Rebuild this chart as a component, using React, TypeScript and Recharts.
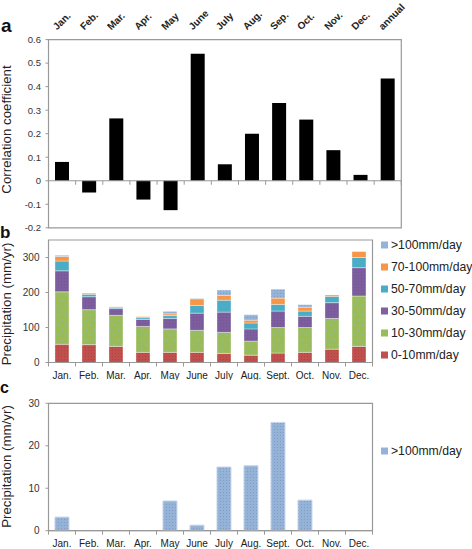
import React from 'react'
import { BarChart, Bar, XAxis, YAxis, ReferenceLine, ReferenceArea } from 'recharts'

// panel a: correlation coefficients
const corrLabels = ['Jan.', 'Feb.', 'Mar.', 'Apr.', 'May', 'June', 'July', 'Aug.', 'Sep.', 'Oct.', 'Nov.', 'Dec.', 'annual']
const corrValues = [0.08, -0.05, 0.265, -0.08, -0.125, 0.54, 0.07, 0.2, 0.33, 0.26, 0.13, 0.025, 0.435]
const corrTicks = [-0.2, -0.1, 0, 0.1, 0.2, 0.3, 0.4, 0.5, 0.6]

// panel b/c: precipitation by daily intensity class
const months = ['Jan.', 'Feb.', 'Mar.', 'Apr.', 'May', 'June', 'July', 'Aug.', 'Sept.', 'Oct.', 'Nov.', 'Dec.']
const p0to10 = [52, 51, 46, 29, 29, 29, 26, 21, 27, 29, 38, 46]
const p10to30 = [150, 100, 89, 74, 67, 63, 60, 40, 73, 71, 88, 144]
const p30to50 = [60, 37, 19, 20, 30, 49, 58, 35, 47, 32, 45, 81]
const p50to70 = [28, 7, 4, 5, 8, 22, 34, 17, 19, 15, 18, 29]
const p70to100 = [13, 3, 1, 3, 5, 19, 14, 8, 18, 11, 4, 17]
const pOver100 = [3.2, 0, 0, 0, 7, 1.3, 15, 15.3, 25.5, 7.2, 0, 0]
const precipTicks = [0, 100, 200, 300]
const extremeTicks = [0, 10, 20, 30]

const seriesKeys = ['p0', 'p10', 'p30', 'p50', 'p70', 'p100']
const seriesNames = ['0-10mm/day', '10-30mm/day', '30-50mm/day', '50-70mm/day', '70-100mm/day', '>100mm/day']

const colors: Record<string, string> = {
  p0: '#c0504d',
  p10: '#9bbb59',
  p30: '#7f61a0',
  p50: '#4bacc6',
  p70: '#f79646',
  p100: '#95b3d7',
}
const fills: Record<string, string> = {
  p0: 'url(#b-red)',
  p10: 'url(#b-green)',
  p30: 'url(#b-purple)',
  p50: '#4bacc6',
  p70: '#f79646',
  p100: 'url(#b-blue)',
}

const corrData = corrLabels.map((m, i) => ({ m, v: corrValues[i] }))
const precipData = months.map((m, i) => ({
  m,
  p0: p0to10[i],
  p10: p10to30[i],
  p30: p30to50[i],
  p50: p50to70[i],
  p70: p70to100[i],
  p100: pOver100[i],
}))
const extremeData = months.map((m, i) => ({ m, v: pOver100[i] }))

const FONT = '"Liberation Sans", Arial, sans-serif'
const GRAY = '#999'
const W = 472
const BAND_B = (W - 48.5 - 99.5) / months.length

function TopTick({ x, y, payload }: any) {
  const tx = x - 5
  const ty = y - 9
  return (
    <text x={tx} y={ty} transform={`rotate(-45 ${tx} ${ty})`} fontSize={10} fontWeight="bold" fill="#222" textAnchor="start" fontFamily={FONT}>
      {payload.value}
    </text>
  )
}

function MonthTick({ x, y, payload, index }: any) {
  const left = x - BAND_B / 2
  return (
    <g>
      <line x1={left} y1={y} x2={left} y2={y + 4} stroke={GRAY} />
      {index === months.length - 1 && <line x1={x + BAND_B / 2} y1={y} x2={x + BAND_B / 2} y2={y + 4} stroke={GRAY} />}
      <text x={x} y={y + 16} fontSize={10} fill="#222" textAnchor="middle" fontFamily={FONT}>
        {payload.value}
      </text>
    </g>
  )
}

function ZeroAxis(props: any) {
  const { x1, x2, y1 } = props
  const step = (x2 - x1) / corrLabels.length
  return (
    <g>
      <line x1={x1} y1={y1} x2={x2} y2={y1} stroke={GRAY} />
      {corrLabels.map((_, i) => (
        <line key={i} x1={x1 + (i + 1) * step} y1={y1} x2={x1 + (i + 1) * step} y2={y1 + 4} stroke={GRAY} />
      ))}
    </g>
  )
}

function Patterns({ p }: { p: string }) {
  return (
    <defs>
      <pattern id={`${p}-red`} width="3" height="3" patternUnits="userSpaceOnUse">
        <rect width="3" height="3" fill="#c0504d" />
        <circle cx="1.5" cy="1.5" r="0.5" fill="#a8403e" />
      </pattern>
      <pattern id={`${p}-green`} width="8" height="10" patternUnits="userSpaceOnUse">
        <rect width="8" height="10" fill="#9bbb59" />
        <circle cx="2" cy="3" r="0.7" fill="#6cc3e6" />
        <circle cx="6" cy="8" r="0.7" fill="#6cc3e6" />
      </pattern>
      <pattern id={`${p}-purple`} width="3" height="3" patternUnits="userSpaceOnUse">
        <rect width="3" height="3" fill="#7c5e9e" />
        <circle cx="1.5" cy="1.5" r="0.45" fill="#684c8a" />
      </pattern>
      <pattern id={`${p}-blue`} width="3" height="3" patternUnits="userSpaceOnUse">
        <rect width="3" height="3" fill="#95b3d7" />
        <circle cx="1.5" cy="1.5" r="0.5" fill="#7893c2" />
      </pattern>
    </defs>
  )
}

const yTick = { fontSize: 10, fill: '#333', fontFamily: FONT }

export default function App() {
  return (
    <div style={{ position: 'absolute', left: 0, top: 0, width: W, height: 549, background: '#fff', fontFamily: FONT }}>
      <div style={{ position: 'absolute', left: 0, top: 0 }}>
        <BarChart width={W} height={232} data={corrData} margin={{ top: 9.6, right: 70.7, bottom: 4.2, left: 0 }} barCategoryGap="24%">
          <XAxis dataKey="m" orientation="top" height={30} axisLine={false} tickLine={false} tickSize={0} tickMargin={0} interval={0} tick={<TopTick />} />
          <YAxis
            domain={[-0.2, 0.6]}
            ticks={corrTicks}
            interval={0}
            width={48.5}
            tickSize={3}
            tickMargin={4.5}
            axisLine={{ stroke: GRAY }}
            tickLine={{ stroke: GRAY }}
            tick={{ ...yTick, fontSize: 9.5 }}
            tickFormatter={(v: number) => String(v)}
          />
          <ReferenceArea y1={-0.2} y2={0.6} fill="none" stroke={GRAY} strokeWidth={1.2} />
          <Bar dataKey="v" fill="#000" isAnimationActive={false} />
          <ReferenceLine y={0} stroke={GRAY} shape={ZeroAxis} />
        </BarChart>
      </div>

      <div style={{ position: 'absolute', left: 0, top: 232 }}>
        <BarChart width={W} height={148} data={precipData} margin={{ top: 8, right: 99.5, bottom: 0, left: 0 }} barCategoryGap="24%">
          <Patterns p="b" />
          <XAxis dataKey="m" height={17.5} axisLine={{ stroke: GRAY }} tickLine={false} tickSize={0} tickMargin={0} interval={0} tick={(p: any) => <MonthTick {...p} />} />
          <YAxis domain={[0, 350]} ticks={precipTicks} interval={0} width={48.5} tickSize={3} tickMargin={6} axisLine={{ stroke: GRAY }} tickLine={{ stroke: GRAY }} tick={yTick} />
          <ReferenceArea y1={0} y2={350} fill="none" stroke={GRAY} strokeWidth={1.2} />
          {seriesKeys.map((k) => (
            <Bar key={k} dataKey={k} stackId="s" fill={fills[k]} stroke="#ffffff" strokeOpacity={0.45} strokeWidth={0.8} isAnimationActive={false} />
          ))}
        </BarChart>
      </div>

      <div style={{ position: 'absolute', left: 0, top: 380 }}>
        <BarChart width={W} height={169} data={extremeData} margin={{ top: 23.3, right: 99.5, bottom: 0, left: 0 }} barCategoryGap="24%">
          <Patterns p="c" />
          <XAxis dataKey="m" height={18.3} axisLine={{ stroke: GRAY }} tickLine={false} tickSize={0} tickMargin={0} interval={0} tick={(p: any) => <MonthTick {...p} />} />
          <YAxis domain={[0, 30]} ticks={extremeTicks} interval={0} width={48.5} tickSize={3} tickMargin={6} axisLine={{ stroke: GRAY }} tickLine={{ stroke: GRAY }} tick={yTick} />
          <ReferenceArea y1={0} y2={30} fill="none" stroke={GRAY} strokeWidth={1.2} />
          <Bar dataKey="v" fill="url(#c-blue)" stroke="#c9d6ea" strokeWidth={1} isAnimationActive={false} />
        </BarChart>
      </div>

      <svg width={W} height={549} style={{ position: 'absolute', left: 0, top: 0, pointerEvents: 'none' }} fontFamily={FONT}>
        <text x={1} y={31.5} fontSize={19} fontWeight="bold" fill="#111">a</text>
        <text x={0} y={238.3} fontSize={17} fontWeight="bold" fill="#111">b</text>
        <text x={0} y={393} fontSize={16} fontWeight="bold" fill="#111">c</text>

        <text transform="translate(11 129.5) rotate(-90)" textAnchor="middle" fontSize={13.3} fill="#222">Correlation coefficient</text>
        <text transform="translate(11 304) rotate(-90)" textAnchor="middle" fontSize={13.3} fill="#222">Precipitation (mm/yr)</text>
        <text transform="translate(11 466.5) rotate(-90)" textAnchor="middle" fontSize={13.3} fill="#222">Precipitation (mm/yr)</text>

        {seriesKeys
          .slice()
          .reverse()
          .map((k, i) => {
            const cy = 245 + i * 22
            return (
              <g key={k}>
                <rect x={381} y={cy - 3.5} width={7} height={7} fill={colors[k]} />
                <text x={391} y={cy + 4.3} fontSize={12.2} fill="#222">{seriesNames[seriesKeys.indexOf(k)]}</text>
              </g>
            )
          })}

        <rect x={381} y={451 - 3.5} width={7} height={7} fill={colors.p100} />
        <text x={391} y={451 + 4.3} fontSize={12.2} fill="#222">{seriesNames[5]}</text>
      </svg>
    </div>
  )
}
